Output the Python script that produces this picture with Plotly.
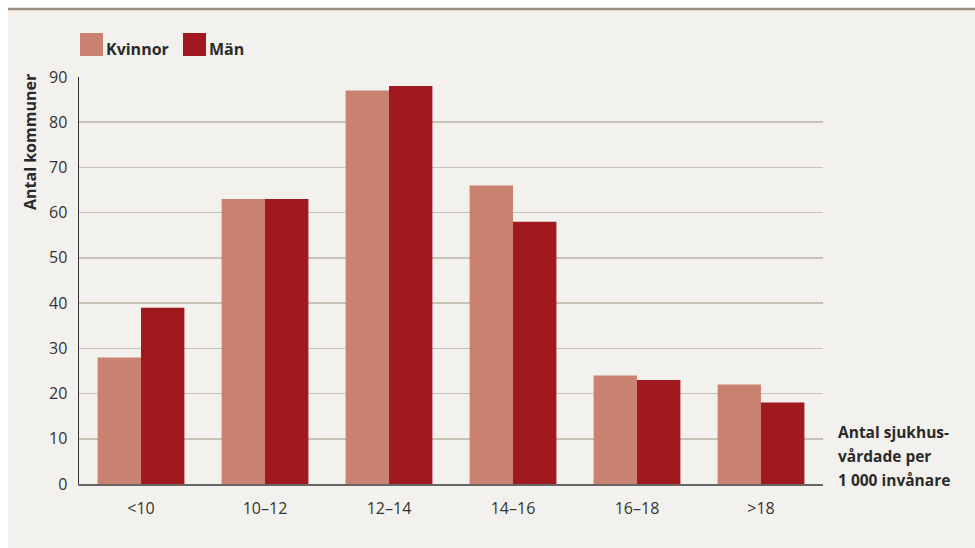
import plotly.graph_objects as go

categories = ["<10", "10–12", "12–14", "14–16", "16–18", ">18"]
kvinnor = [28, 63, 87, 66, 24, 22]
man = [39, 63, 88, 58, 23, 18]
y_ticks = [0, 10, 20, 30, 40, 50, 60, 70, 80, 90]

W, H = 975, 548
L, R, T, B = 79, 823, 77, 484
pw, ph = R - L, B - T

def px(x):
    return (x - L) / pw

def py(y):
    return (B - y) / ph

c_k = "#c98270"
c_m = "#a0191e"
panel = "#f3f1ed"
font = "Open Sans"
tc = "#2a2a2a"

fig = go.Figure()
fig.add_bar(x=categories, y=kvinnor, name="Kvinnor", marker_color=c_k, marker_line_width=0)
fig.add_bar(x=categories, y=man, name="Män", marker_color=c_m, marker_line_width=0)

shapes = [
    dict(type="rect", xref="paper", yref="paper", x0=px(8), x1=px(W + 5), y0=py(H + 5), y1=py(10),
         fillcolor=panel, line_width=0, layer="below"),
    dict(type="line", xref="paper", yref="paper", x0=px(8), x1=px(W + 5), y0=py(9), y1=py(9),
         line=dict(color="#9e9184", width=2.5)),
    dict(type="rect", xref="paper", yref="paper", x0=px(80), x1=px(103), y0=py(56), y1=py(33),
         fillcolor=c_k, line_width=0),
    dict(type="rect", xref="paper", yref="paper", x0=px(183), x1=px(206), y0=py(56), y1=py(33),
         fillcolor=c_m, line_width=0),
]

annotations = [
    dict(text="<b>Kvinnor</b>", xref="paper", yref="paper", x=px(104), y=py(49), xanchor="left",
         yanchor="middle", showarrow=False, font=dict(size=16, color=tc, family=font)),
    dict(text="<b>Män</b>", xref="paper", yref="paper", x=px(207), y=py(49), xanchor="left",
         yanchor="middle", showarrow=False, font=dict(size=16, color=tc, family=font)),
    dict(text="<b>Antal kommuner</b>", xref="paper", yref="paper", x=px(30), y=py(72), xanchor="center",
         yanchor="top", textangle=-90, showarrow=False, font=dict(size=16, color=tc, family=font)),
]
for i, line in enumerate(["Antal sjukhus-", "vårdade per", "1 000 invånare"]):
    annotations.append(dict(text="<b>" + line + "</b>", xref="paper", yref="paper",
                            x=px(836), y=py(432 + 24 * i), xanchor="left", yanchor="middle",
                            showarrow=False, font=dict(size=15.5, color=tc, family=font)))

fig.update_layout(
    width=W, height=H,
    margin=dict(l=L, r=W - R, t=T, b=H - B, pad=0),
    paper_bgcolor="white",
    plot_bgcolor=panel,
    barmode="group",
    bargap=0.3,
    bargroupgap=0,
    showlegend=False,
    hovermode=False,
    shapes=shapes,
    annotations=annotations,
    font=dict(family=font, size=15, color="#333333"),
    xaxis=dict(showgrid=False, showline=True, linecolor="#666666", linewidth=2,
               ticks="", tickfont=dict(size=16, color="#333333"), ticklabelstandoff=9),
    yaxis=dict(range=[0, 90], tickvals=y_ticks, showgrid=True, gridcolor="#c9c0b6", gridwidth=1.5,
               showline=True, linecolor="#333333", linewidth=1.5, zeroline=False,
               ticks="", tickfont=dict(size=16, color="#333333"), ticklabelstandoff=7),
)

fig.write_html(
    "out.html",
    config={"displayModeBar": False, "staticPlot": True},
    post_script="document.body.style.margin='0';document.body.style.padding='0';document.body.style.overflow='hidden';",
)
